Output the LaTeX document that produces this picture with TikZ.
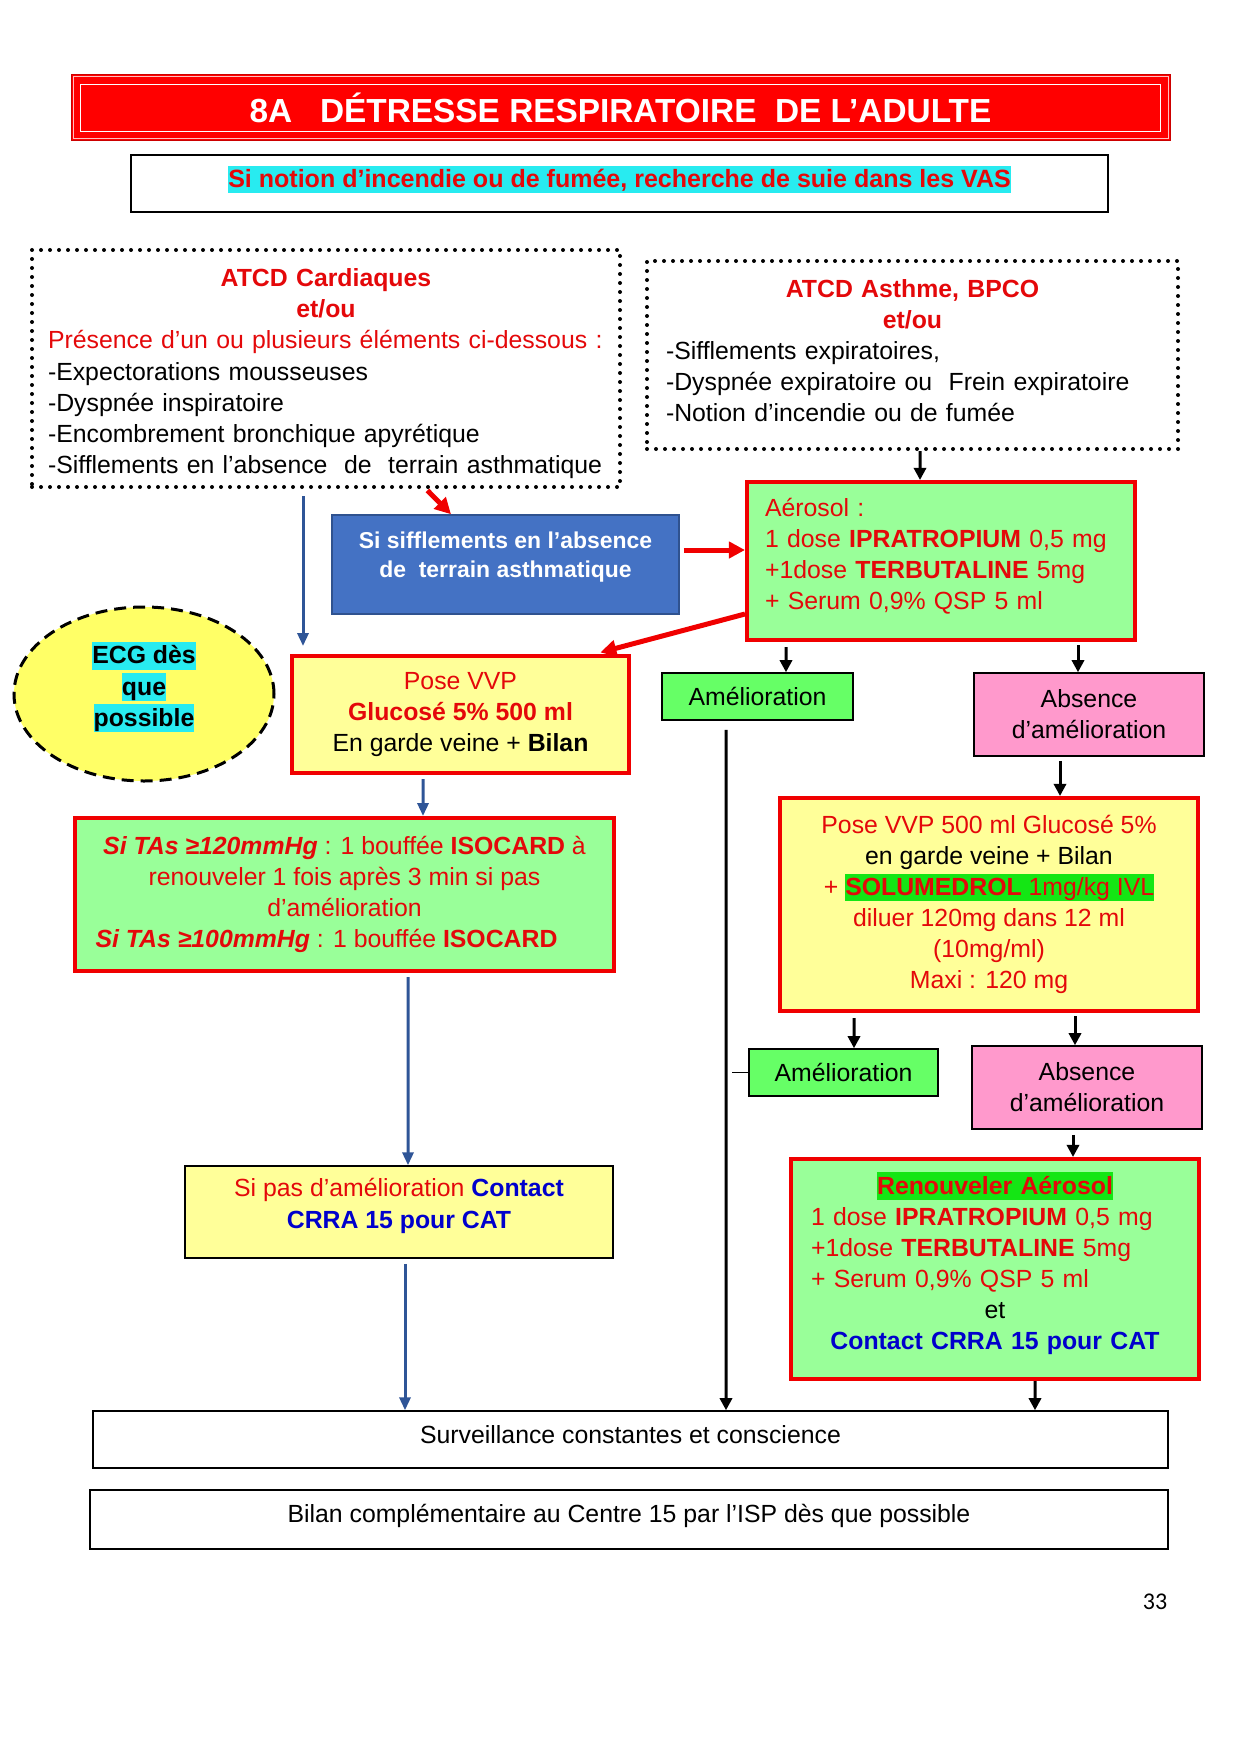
\documentclass[tikz,border=0pt]{standalone}
\usepackage{fontspec}
\setmainfont{Liberation Sans}
\newfontfamily\pagefont{Carlito}
\usepackage{tikz}
\usetikzlibrary{shapes.geometric, arrows.meta, positioning}
% one pixel of the A4 page
\newlength{\px}
\setlength{\px}{0.4795pt}
\definecolor{titlered}{RGB}{255,0,0}
\definecolor{txtred}{RGB}{228,8,10}
\definecolor{boxred}{RGB}{240,0,0}
\definecolor{aerogreen}{RGB}{153,255,153}
\definecolor{palegold}{RGB}{255,255,153}
\definecolor{amelgreen}{RGB}{102,255,102}
\definecolor{absentpink}{RGB}{255,153,204}
\definecolor{officeblue}{RGB}{68,114,196}
\definecolor{officeblueline}{RGB}{47,82,143}
\definecolor{arrowblue}{RGB}{47,85,151}
\definecolor{ecgyellow}{RGB}{255,255,102}
\definecolor{hlcyan}{RGB}{40,235,240}
\definecolor{hlgreen}{RGB}{20,230,20}
\definecolor{ctblue}{RGB}{0,0,204}
\newcommand{\bodyfont}{\fontsize{11.9pt}{14.9pt}\selectfont}
\newcommand{\titlefont}{\fontsize{16pt}{19pt}\selectfont\bfseries}
\newcommand{\subfont}{\fontsize{12pt}{15pt}\selectfont\bfseries}
\newcommand{\smallbold}{\fontsize{11pt}{13.9pt}\selectfont\bfseries}
\newcommand{\hl}[2]{{\setlength{\fboxsep}{0pt}\colorbox{#1}{\rule[-0.23em]{0pt}{1.11em}#2}}}
\newcommand{\ctr}[1]{\hspace*{\fill}{#1}\hspace*{\fill}\null}
% invisible struts that lift or lower the text inside a box
\newcommand{\lowpad}[1]{\rule[-#1]{0pt}{0pt}}
\newcommand{\highpad}[1]{\rule{0pt}{#1}}
\tikzstyle{titlebox} = [rectangle, fill=titlered, draw=titlered!80!black, line width=1\px, text=white, font=\titlefont, inner sep=0pt]
\tikzstyle{plainbox} = [rectangle, draw=black, line width=1.5\px, font=\bodyfont, inner sep=0pt]
\tikzstyle{dotbox} = [rectangle, draw=black, line width=4\px, dash pattern=on 0pt off 9\px, line cap=round, font=\bodyfont, inner sep=0pt]
\tikzstyle{redbox} = [rectangle, draw=boxred, line width=4\px, font=\bodyfont, text=txtred, inner sep=0pt]
\tikzstyle{greenred} = [redbox, fill=aerogreen]
\tikzstyle{yellowred} = [redbox, fill=palegold]
\tikzstyle{amelbox} = [plainbox, fill=amelgreen]
\tikzstyle{absentbox} = [plainbox, fill=absentpink, align=center]
\tikzstyle{bluebox} = [rectangle, fill=officeblue, draw=officeblueline, line width=1.5\px, text=white, font=\smallbold, align=center, inner sep=0pt]
\tikzstyle{ecgbubble} = [ellipse, fill=ecgyellow, draw=black, line width=3\px, dash pattern=on 12\px off 7\px, font=\bodyfont\bfseries, align=center, inner sep=0pt]
\tikzstyle{blk} = [draw=black, line width=3\px, -{Triangle[length=5.8pt,width=5.8pt]}]
\tikzstyle{bluearr} = [draw=arrowblue, line width=3\px, -{Triangle[length=6.2pt,width=5.3pt]}]
\tikzstyle{redarr} = [draw=boxred, line width=5\px, -{Triangle[length=7.7pt,width=7.7pt]}]

\begin{document}
\begin{tikzpicture}[x=\px, y=-\px]
  \useasboundingbox (0,0) rectangle (1241,1755);
  % heading
  \node [titlebox, minimum width=1099\px, minimum height=66\px] (title) at (620.5,108) {8A\ \ \ DÉTRESSE RESPIRATOIRE\ \ DE L’ADULTE};
  \draw [red!25, line width=1\px] ([shift={(2.5,2.5)}]title.north west) rectangle ([shift={(-2.5,-2.5)}]title.south east);
  \draw [white, line width=1.2\px] ([shift={(10,10)}]title.north west) rectangle ([shift={(-10,-10)}]title.south east);
  \node [plainbox, minimum width=977\px, minimum height=57\px, font=\subfont] (sub) at (619.5,183.5) {\hl{hlcyan}{\color{txtred}Si notion d’incendie ou de fumée, recherche de suie dans les VAS}\lowpad{6.6pt}};
  % the two histories
  \node [dotbox, minimum width=588\px, minimum height=237\px, text width=556\px, align=left] (cardio) at (326,368.5) {%
    \ctr{{\color{txtred}\bfseries\highpad{13.5pt}ATCD Cardiaques}}\\
    \ctr{{\color{txtred}\bfseries et/ou}}\\
    {\color{txtred}Présence d’un ou plusieurs éléments ci-dessous :}\\
    -Expectorations mousseuses\\
    -Dyspnée inspiratoire\\
    -Encombrement bronchique apyrétique\\
    -Sifflements en l’absence\ \ de\ \ terrain asthmatique};
  \node [dotbox, minimum width=531\px, minimum height=188\px, text width=493\px, align=left] (asthme) at (912.5,355) {%
    \ctr{{\color{txtred}\bfseries ATCD Asthme, BPCO}}\\
    \ctr{{\color{txtred}\bfseries et/ou}}\\
    -Sifflements expiratoires,\\
    -Dyspnée expiratoire ou\ \ Frein expiratoire\\
    -Notion d’incendie ou de fumée\lowpad{4pt}};
  \node [bluebox, minimum width=347\px, minimum height=99\px] (siffl) at (505.5,564.5) {Si sifflements en l’absence\\de\ \ terrain asthmatique\lowpad{9.1pt}};
  \node [greenred, minimum width=388\px, minimum height=158\px, text width=352\px, align=left] (aero) at (941,561) {Aérosol :\\1 dose \textbf{IPRATROPIUM} 0,5 mg\\+1dose \textbf{TERBUTALINE} 5mg\\+ Serum 0,9\% QSP 5 ml\lowpad{6.6pt}};
  % cardiac branch
  \node [ecgbubble, minimum width=260\px, minimum height=174\px] (ecg) at (144,694) {\hl{hlcyan}{ECG dès}\\\hl{hlcyan}{que}\\\hl{hlcyan}{possible}\lowpad{9.5pt}};
  \node [yellowred, minimum width=337\px, minimum height=117\px, align=center] (vvp1) at (460.5,714.5) {Pose VVP\\\textbf{Glucosé 5\% 500 ml}\\{\color{black}En garde veine + \textbf{Bilan}}};
  \node [greenred, minimum width=539\px, minimum height=153\px, align=center] (isocard) at (344.5,894.5) {\textbf{\textit{Si TAs ≥120mmHg}} : 1 bouffée \textbf{ISOCARD} à\\renouveler 1 fois après 3 min si pas\\d’amélioration\\\textbf{\textit{Si TAs ≥100mmHg}} : 1 bouffée \textbf{ISOCARD}\rule{36\px}{0pt}};
  \node [plainbox, fill=palegold, minimum width=428\px, minimum height=92\px, align=center] (sipas) at (399,1212) {{\color{txtred}Si pas d’amélioration} {\color{ctblue}\textbf{Contact}}\\{\color{ctblue}\textbf{CRRA 15 pour CAT}}\lowpad{8.3pt}};
  % asthma branch
  \node [amelbox, minimum width=191\px, minimum height=47\px] (amel1) at (757.5,696.5) {Amélioration};
  \node [absentbox, minimum width=230\px, minimum height=83\px] (absent1) at (1089,714.5) {Absence\\d’amélioration};
  \node [yellowred, minimum width=418\px, minimum height=213\px, align=center] (vvp2) at (989,904.5) {Pose VVP 500 ml Glucosé 5\%\\{\color{black}en garde veine + Bilan}\\+ \hl{hlgreen}{\textbf{SOLUMEDROL} 1mg/kg IVL}\\diluer 120mg dans 12 ml\\(10mg/ml)\\Maxi : 120 mg};
  \node [amelbox, minimum width=189\px, minimum height=47\px] (amel2) at (843.5,1072.5) {Amélioration};
  \node [absentbox, minimum width=230\px, minimum height=83\px] (absent2) at (1087,1087.5) {Absence\\d’amélioration};
  \node [greenred, minimum width=408\px, minimum height=220\px, text width=368\px, align=left] (renouv) at (995,1269) {%
    \ctr{\hl{hlgreen}{\textbf{Renouveler Aérosol}}}\\
    1 dose \textbf{IPRATROPIUM} 0,5 mg\\
    +1dose \textbf{TERBUTALINE} 5mg\\
    + Serum 0,9\% QSP 5 ml\\
    \ctr{{\color{black}et}}\\
    \ctr{{\color{ctblue}\textbf{Contact CRRA 15 pour CAT}}\lowpad{7.9pt}}};
  % common end
  \node [plainbox, minimum width=1075\px, minimum height=57\px] (surv) at (630.5,1439.5) {Surveillance constantes et conscience\lowpad{4.8pt}};
  \node [plainbox, minimum width=1078\px, minimum height=59\px] (bilan) at (629,1519.5) {Bilan complémentaire au Centre 15 par l’ISP dès que possible\lowpad{6.3pt}};
  \node [font=\pagefont\fontsize{11.5pt}{13pt}\selectfont] (pagenum) at (1155,1602) {33};
  \coordinate (dashend) at (732,1077);
  % arrows
  \draw [bluearr, shorten <=7\px, shorten >=8\px] ([xshift=-23\px]cardio.south) -- ([xshift=-157.5\px]vvp1.north);
  \draw [redarr, shorten <=2\px] ([xshift=100\px]cardio.south) -- ([xshift=-54.5\px]siffl.north);
  \draw [redarr, shorten <=4\px] ([yshift=14.5\px]siffl.east) -- ([yshift=11\px]aero.west);
  \draw [redarr, shorten >=6\px] ([yshift=-53\px]aero.west) -- ([xshift=134\px]vvp1.north);
  \draw [blk] ([xshift=7.5\px]asthme.south) -- ([xshift=-21\px]aero.north);
  \draw [blk, shorten <=5\px] ([xshift=-155\px]aero.south) -- ([xshift=28.5\px]amel1.north);
  \draw [blk, shorten <=3\px] ([xshift=137\px]aero.south) -- ([xshift=-11\px]absent1.north);
  \draw [blk, shorten <=9\px] ([xshift=-31.5\px]amel1.south) -- ([xshift=95.5\px]surv.north);
  \draw [blk, shorten <=4\px] ([xshift=-29\px]absent1.south) -- ([xshift=71\px]vvp2.north);
  \draw [bluearr, shorten <=4\px] ([xshift=-37.5\px]vvp1.south) -- ([xshift=78.5\px]isocard.north);
  \draw [bluearr, shorten <=4\px] ([xshift=63.5\px]isocard.south) -- ([xshift=9\px]sipas.north);
  \draw [bluearr, shorten <=5\px] ([xshift=6\px]sipas.south) -- ([xshift=-225.5\px]surv.north);
  \draw [blk, shorten <=5\px] ([xshift=-135\px]vvp2.south) -- ([xshift=10.5\px]amel2.north);
  \draw [blk, shorten <=3\px] ([xshift=86\px]vvp2.south) -- ([xshift=-12\px]absent2.north);
  \draw [line width=1.5\px] (amel2.west) -- (amel2.west -| dashend);
  \draw [blk, shorten <=5\px] ([xshift=-14\px]absent2.south) -- ([xshift=78\px]renouv.north);
  \draw [blk] ([xshift=40\px]renouv.south) -- ([xshift=404.5\px]surv.north);
\end{tikzpicture}
\end{document}
